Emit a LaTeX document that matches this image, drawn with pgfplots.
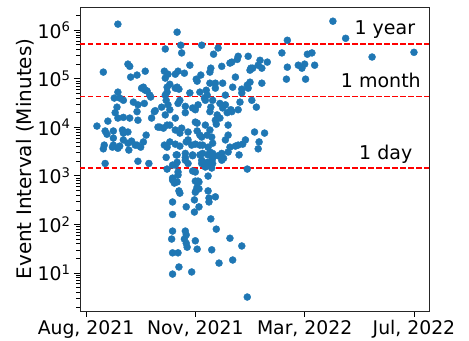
\documentclass[border=0pt]{standalone}
\usepackage{fontspec}
\setmainfont{DejaVu Sans}
\usepackage{pgfplots}
\pgfplotsset{compat=1.18}
\usepackage{pgfplotstable}
\definecolor{mplblue}{HTML}{1F77B4}
\definecolor{refred}{HTML}{FF0000}

\pgfplotstableread{
x y
35 1.33e6
19 1.37e5
100 9.1e5
104 4.9e5
87 4.1e5
105 3.4e5
127 4.9e5
145 4.3e5
140 3.2e5
46 2.0e5
48 1.8e5
49 1.08e5
56 1.19e5
65 1.43e5
114 1.9e5
86 1.43e5
90 1.24e5
87 1.03e5
101 1.43e5
98 1.24e5
108 1.3e5
121 9.8e4
122 8.9e4
137 1.65e5
136 1.37e5
149 1.8e5
160 2.2e5
158 2.1e5
167 2.9e5
166 2.5e5
178 2.9e5
181 1.65e5
180 1.5e5
183 1.65e5
189 1.9e5
191 2.4e5
199 2.2e5
193 1.65e5
215 3.4e5
221 6.2e5
221 1.73e5
220 9.8e4
233 1.9e5
237 1.65e5
240 2.0e5
241 9.8e4
243 3.2e5
248 3.4e5
251 1.9e5
271 1.53e6
285 6.8e5
314 2.8e5
360 3.5e5
132 5.8e4
142 8.1e4
150 8.1e4
164 1.08e5
161 6.7e4
171 6.1e4
177 7.4e4
180 8.5e4
193 8.1e4
171 5.1e4
182 3.6e4
187 2.6e4
169 3.3e4
88 3.6e4
89 5.3e4
89 6.7e4
92 7.7e4
100 6.7e4
102 6.1e4
63 6.7e4
67 5.6e4
71 4.2e4
35 5.3e4
31 4.0e4
37 4.0e4
41 3.6e4
34 2.6e4
52 3.3e4
57 2.9e4
64 3.1e4
75 2.1e4
83 2.6e4
92 2.3e4
101 3.1e4
109 2.7e4
117 2.5e4
123 2.9e4
130 4.0e4
133 4.6e4
139 3.6e4
137 2.6e4
147 3.1e4
150 2.5e4
159 2.3e4
155 2.0e4
12 1.06e4
24 1.34e4
21 8.4e3
23 7.2e3
30 8.4e3
40 8.8e3
41 7.6e3
46 8.0e3
20 4.3e3
19 3.6e3
30 4.3e3
37 4.1e3
41 5.5e3
50 5.2e3
47 3.4e3
54 4.3e3
60 3.9e3
63 5.0e3
66 6.9e3
21 1.8e3
57 2.0e3
69 1.8e3
81 1.01e4
89 1.11e4
98 8.8e3
103 7.6e3
112 8.0e3
122 8.4e3
122 1.22e4
86 4.3e3
89 3.9e3
98 4.5e3
103 4.1e3
110 5.0e3
116 4.3e3
120 4.5e3
88 2.4e3
100 2.7e3
109 2.9e3
117 2.6e3
100 1.9e3
98 1.67e3
109 2.1e3
127 6.3e3
133 6.9e3
138 6.3e3
128 4.3e3
134 3.9e3
139 4.7e3
128 2.9e3
134 2.7e3
139 2.9e3
127 2.1e3
133 1.9e3
138 2.1e3
134 1.67e3
139 1.8e3
131 1.52e3
138 1.45e3
143 1.16e4
144 1.8e4
156 6.9e3
149 2.9e3
151 2.3e3
158 3.9e3
164 4.1e3
168 2.7e3
172 4.5e3
175 5.5e3
185 8.0e3
196 7.6e3
190 5.0e3
189 3.6e3
177 1.38e3
89 1.38e3
101 1.2e3
117 1.26e3
120 1.2e3
95 900
100 750
123 780
134 990
102 490
122 590
120 460
134 490
119 320
95 290
135 350
142 370
110 230
124 230
119 180
95 160
137 130
95 73
109 73
110 61
143 80
94 50
108 50
110 41
111 34
120 46
122 31
158 52
171 36
95 26
101 26
138 30
161 18.5
146 16
102 13.3
116 10.5
95 9.5
177 3.2
32 2.0e4
35 1.55e4
41 1.6e4
48 1.55e4
57 1.4e4
56 2.1e4
65 5.8e4
61 6.4e4
70 4.6e4
76 2.2e4
79 1.01e4
72 1.55e4
30 6.0e3
46 4.7e3
56 4.3e3
29 3.9e3
35 3.7e3
87 4.6e4
98 6.4e4
114 5.1e4
125 5.3e4
142 6.4e4
153 4.6e4
90 2.9e4
103 3.6e4
131 3.6e4
153 2.9e4
160 2.1e4
87 1.8e4
98 1.55e4
109 2.0e4
120 2.3e4
136 2.1e4
147 1.55e4
92 1.11e4
105 9.6e3
120 1.28e4
131 1.11e4
142 1.4e4
156 1.11e4
85 9.6e3
125 6.9e3
136 8.8e3
112 5.5e3
92 5.0e3
153 5.5e3
125 4.3e3
99 2.7e3
109 2.4e3
117 2.7e3
125 2.7e3
136 3.1e3
139 2.3e3
145 2.6e3
149 2.1e3
156 3.1e3
112 1.8e3
95 1.67e3
127 1.8e3
101 1.04e3
95 820
97 710
120 780
124 750
124 540
103 440
121 510
135 290
167 4.3e3
178 6.4e4
167 2.3e4
126 1.19e5
136 8.1e4
}\events

\pgfplotstableread{
x y
-6.6 525600
376.5 525600
}\yearline
\pgfplotstableread{
x y
-6.6 43200
376.5 43200
}\monthline
\pgfplotstableread{
x y
-6.6 1440
376.5 1440
}\dayline

\begin{document}
\begin{tikzpicture}
\useasboundingbox (-80bp,-30bp) rectangle (389bp,311bp);
\begin{axis}[
  at={(0,0)}, anchor=south west,
  scale only axis, width=349bp, height=304bp,
  xmin=-6.6, xmax=376.5,
  ymode=log, ymin=1.65, ymax=3.0e6,
  xtick={0,120,240,360},
  xticklabels={{Aug, 2021},{Nov, 2021},{Mar, 2022},{Jul, 2022}},
  ytick={10,100,1000,10000,100000,1000000},
  yticklabels={10\textsuperscript{1},10\textsuperscript{2},10\textsuperscript{3},10\textsuperscript{4},10\textsuperscript{5},10\textsuperscript{6}},
  minor ytick={2,3,4,5,6,7,8,9,20,30,40,50,60,70,80,90,200,300,400,500,600,700,800,900,2000,3000,4000,5000,6000,7000,8000,9000,20000,30000,40000,50000,60000,70000,80000,90000,200000,300000,400000,500000,600000,700000,800000,900000,2000000},
  tick pos=left, tick align=outside,
  major tick length=6bp, minor tick length=3.5bp,
  major tick style={black, line width=0.8bp},
  minor tick style={black, line width=0.6bp},
  axis line style={line width=0.8bp, black!85},
  tick label style={font=\fontsize{18.8bp}{22bp}\selectfont},
  ylabel={Event Interval (Minutes)},
  ylabel style={font=\fontsize{20bp}{23bp}\selectfont, at={(axis description cs:-0.158,0.5)}, anchor=center},
  clip=false,
]
\addplot[draw=refred, color=refred, line width=1.6bp, dash pattern=on 5.5bp off 2.5bp, mark=none] table[x=x, y=y] {\yearline};
\addplot[draw=refred, color=refred, line width=1.6bp, dash pattern=on 5.5bp off 2.5bp, mark=none] table[x=x, y=y] {\monthline};
\addplot[draw=refred, color=refred, line width=1.6bp, dash pattern=on 5.5bp off 2.5bp, mark=none] table[x=x, y=y] {\dayline};
\addplot[only marks, mark=*, mark size=3.5bp, color=mplblue, mark options={fill=mplblue, draw=mplblue}] table[x=x, y=y] {\events};
\node[anchor=base west, font=\fontsize{19bp}{22bp}\selectfont] at (axis cs:291,8.3e5) {1 year};
\node[anchor=base west, font=\fontsize{19bp}{22bp}\selectfont] at (axis cs:276,6.6e4) {1 month};
\node[anchor=base west, font=\fontsize{19bp}{22bp}\selectfont] at (axis cs:296,2.2e3) {1 day};
\end{axis}
\end{tikzpicture}
\end{document}
